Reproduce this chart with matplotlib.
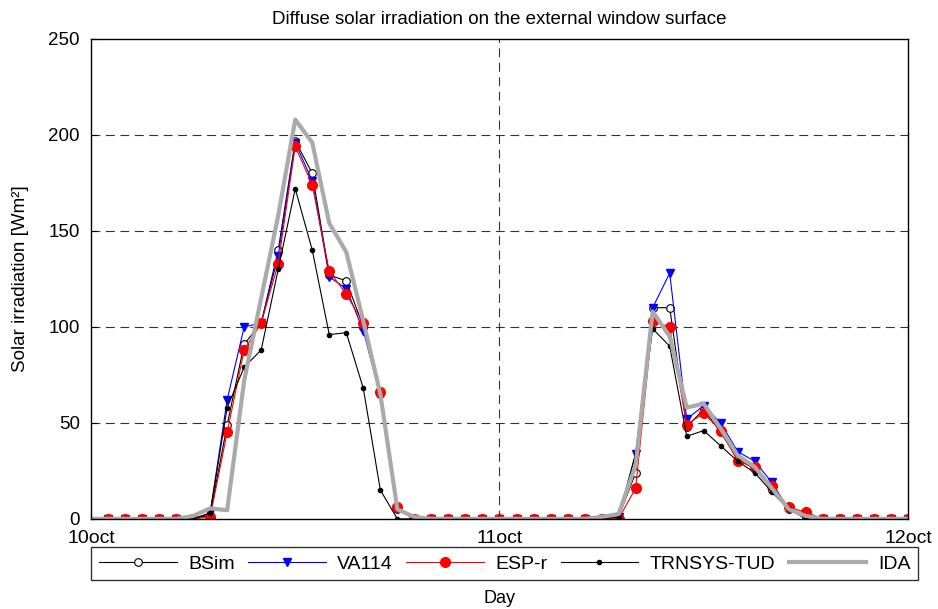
import numpy as np
import matplotlib.pyplot as plt

plt.rcParams['font.family'] = ['Liberation Sans', 'DejaVu Sans']

hours = np.arange(1, 49)
hours_ida = np.arange(0, 49)

bsim = [0, 0, 0, 0, 0, 0, 2, 49, 91, 102, 140, 197, 180, 127, 124, 100, 65, 5,
        0, 0, 0, 0, 0, 0, 0, 0, 0, 0, 0, 0, 1, 24, 110, 110, 48, 57, 45, 31, 26, 15,
        5, 1, 0, 0, 0, 0, 0, 0]
va114 = [0, 0, 0, 0, 0, 0, 3, 62, 100, 102, 137, 196, 176, 126, 120, 98, 64, 5,
         0, 0, 0, 0, 0, 0, 0, 0, 0, 0, 0, 0, 1, 34, 110, 128, 52, 59, 50, 35, 30, 19,
         5, 2, 0, 0, 0, 0, 0, 0]
espr = [0, 0, 0, 0, 0, 0, 1, 45, 88, 102, 133, 194, 174, 129, 117, 102, 66, 6,
        0, 0, 0, 0, 0, 0, 0, 0, 0, 0, 0, 0, 0, 16, 103, 100, 49, 55, 46, 30, 27, 17,
        6, 3.5, 0, 0, 0, 0, 0, 0]
trnsys = [0, 0, 0, 0, 0, 0, 3, 58, 79, 88, 130, 172, 140, 96, 97, 68, 15, 0,
          0, 0, 0, 0, 0, 0, 0, 0, 0, 0, 0, 0, 1, 34, 99, 90, 43, 46, 38, 30, 24, 14,
          5, 0, 0, 0, 0, 0, 0, 0]
ida = [0, 0, 0, 0, 0, 0, 1.5, 5.5, 4.5, 72, 115, 158, 208, 196, 154, 139, 103, 65, 5,
       1, 0, 0, 0, 0, 0, 0, 0, 0, 0, 0, 1, 2.5, 28, 108, 95, 58, 60, 47, 33, 27, 16,
       5, 1.5, 0, 0, 0, 0, 0, 0]

xticks = [0, 24, 48]
xticklabels = ['10oct', '11oct', '12oct']

fig = plt.figure(figsize=(9.38, 6.09), dpi=100)
ax = fig.add_axes([0.097, 0.148, 0.871, 0.788])

ax.plot(hours, bsim, color='black', lw=0.8, marker='o', ms=5.5,
        mfc='white', mec='black', mew=0.8, label='BSim')
ax.plot(hours, va114, color='blue', lw=0.8, marker='v', ms=6,
        mfc='blue', mec='blue', label='VA114')
ax.plot(hours, espr, color='red', lw=0.8, marker='o', ms=7,
        mfc='red', mec='red', label='ESP-r')
ax.plot(hours, trnsys, color='black', lw=0.8, marker='o', ms=3,
        mfc='black', mec='black', label='TRNSYS-TUD')
ax.plot(hours_ida, ida, color='#aaaaaa', lw=3, label='IDA')

ax.set_xlim(0, 48)
ax.set_ylim(0, 250)
ax.set_xticks(xticks)
ax.set_xticklabels(xticklabels)
ax.set_yticks(np.arange(0, 251, 50))

for yv in [50, 100, 150, 200]:
    ax.axhline(yv, color='#333333', lw=0.8, ls=(0, (8, 5)), zorder=0)
ax.axvline(24, color='#333333', lw=0.8, ls=(0, (8, 5)), zorder=0)

ax.tick_params(direction='in', length=4, labelsize=14)
ax.tick_params(axis='y', pad=8, labelsize=13.5)
ax.tick_params(axis='x', pad=8)
for s in ax.spines.values():
    s.set_linewidth(1.0)

ax.set_title('Diffuse solar irradiation on the external window surface',
             fontsize=13.5, pad=11)
ax.set_ylabel('Solar irradiation [Wm²]', fontsize=13.5, labelpad=14)
fig.text(0.532, 0.01, 'Day', ha='center', fontsize=13)

leg = fig.legend(loc='lower left', bbox_to_anchor=(0.097, 0.047, 0.882, 0.058),
                 mode='expand', ncol=5, fontsize=14, handlelength=4,
                 handletextpad=0.6, frameon=True, fancybox=False,
                 borderaxespad=0)
leg.get_frame().set_edgecolor('black')
leg.get_frame().set_linewidth(1.0)

fig.savefig('out.png', dpi=100)
